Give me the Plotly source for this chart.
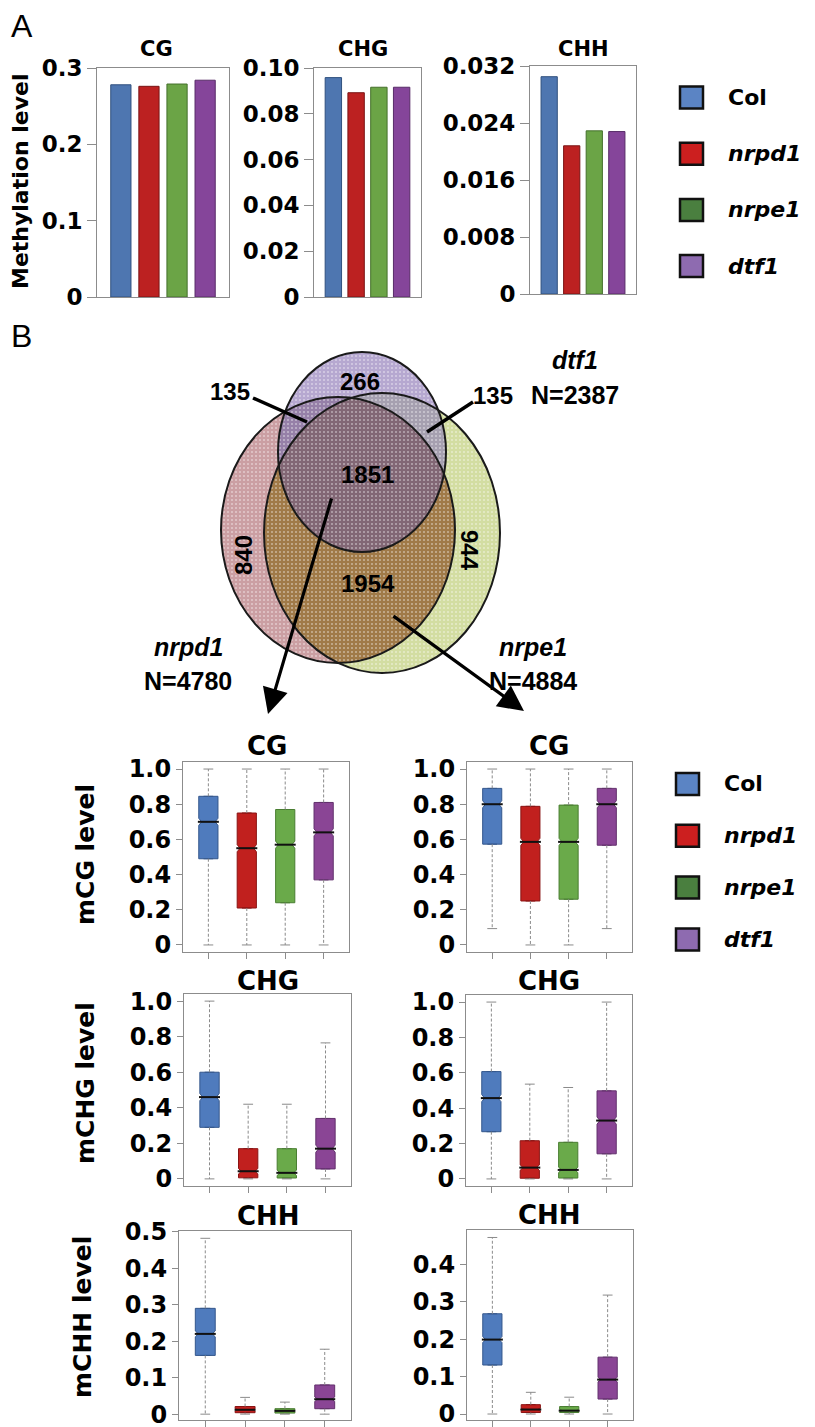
import numpy as np
import plotly.graph_objects as go

W, H = 815, 1427
# the page places the figure 8px in from the top-left corner; compensate
OX, OY = 8, 8

# ---------------- data ----------------
genotypes = ["Col", "nrpd1", "nrpe1", "dtf1"]
is_italic = [False, True, True, True]

# Panel A: genome-wide methylation level
bar_contexts = ["CG", "CHG", "CHH"]
bar_CG = [0.278, 0.276, 0.279, 0.284]
bar_CHG = [0.0958, 0.0892, 0.0916, 0.0916]
bar_CHH = [0.0305, 0.0208, 0.0229, 0.0228]
bar_ticks_CG = [0, 0.1, 0.2, 0.3]
bar_labels_CG = ["0", "0.1", "0.2", "0.3"]
bar_ticks_CHG = [0, 0.02, 0.04, 0.06, 0.08, 0.10]
bar_labels_CHG = ["0", "0.02", "0.04", "0.06", "0.08", "0.10"]
bar_ticks_CHH = [0, 0.008, 0.016, 0.024, 0.032]
bar_labels_CHH = ["0", "0.008", "0.016", "0.024", "0.032"]

# Panel B: Venn diagram
venn_names = ["dtf1", "nrpd1", "nrpe1"]
venn_N = [2387, 4780, 4884]
n_dtf1_only = 266
n_dtf1_nrpd1 = 135
n_dtf1_nrpe1 = 135
n_all = 1851
n_nrpd1_only = 840
n_nrpe1_only = 944
n_nrpd1_nrpe1 = 1954

# Box plots, left = 1851 shared DMRs, right = 1954 DMRs
L_CG_low = [0.0, 0.0, 0.0, 0.0]
L_CG_q1 = [0.49, 0.21, 0.24, 0.37]
L_CG_med = [0.70, 0.55, 0.57, 0.64]
L_CG_q3 = [0.845, 0.75, 0.77, 0.81]
L_CG_up = [1.0, 1.0, 1.0, 1.0]
L_CG_notch = [0.02, 0.02, 0.02, 0.02]

L_CHG_low = [0.0, 0.0, 0.0, 0.0]
L_CHG_q1 = [0.29, 0.006, 0.005, 0.056]
L_CHG_med = [0.46, 0.043, 0.034, 0.17]
L_CHG_q3 = [0.60, 0.17, 0.17, 0.34]
L_CHG_up = [1.0, 0.42, 0.42, 0.765]
L_CHG_notch = [0.02, 0.015, 0.015, 0.02]

L_CHH_low = [0.0, 0.0, 0.0, 0.0]
L_CHH_q1 = [0.161, 0.004, 0.003, 0.015]
L_CHH_med = [0.22, 0.012, 0.009, 0.041]
L_CHH_q3 = [0.29, 0.021, 0.015, 0.08]
L_CHH_up = [0.482, 0.046, 0.033, 0.178]
L_CHH_notch = [0.008, 0.003, 0.003, 0.006]

R_CG_low = [0.093, 0.0, 0.0, 0.093]
R_CG_q1 = [0.573, 0.25, 0.26, 0.567]
R_CG_med = [0.80, 0.586, 0.586, 0.80]
R_CG_q3 = [0.89, 0.788, 0.795, 0.89]
R_CG_up = [1.0, 1.0, 1.0, 1.0]
R_CG_notch = [0.02, 0.02, 0.02, 0.02]

R_CHG_low = [0.0, 0.0, 0.0, 0.0]
R_CHG_q1 = [0.267, 0.004, 0.005, 0.142]
R_CHG_med = [0.457, 0.064, 0.051, 0.33]
R_CHG_q3 = [0.607, 0.216, 0.207, 0.498]
R_CHG_up = [1.0, 0.536, 0.517, 1.0]
R_CHG_notch = [0.02, 0.015, 0.015, 0.02]

R_CHH_low = [0.0, 0.0, 0.0, 0.0]
R_CHH_q1 = [0.131, 0.004, 0.004, 0.04]
R_CHH_med = [0.199, 0.012, 0.009, 0.092]
R_CHH_q3 = [0.268, 0.025, 0.02, 0.152]
R_CHH_up = [0.472, 0.058, 0.045, 0.318]
R_CHH_notch = [0.008, 0.003, 0.003, 0.006]

box_ticks_1 = [0, 0.2, 0.4, 0.6, 0.8, 1.0]
box_labels_1 = ["0", "0.2", "0.4", "0.6", "0.8", "1.0"]
box_ticks_CHH_L = [0, 0.1, 0.2, 0.3, 0.4, 0.5]
box_labels_CHH_L = ["0", "0.1", "0.2", "0.3", "0.4", "0.5"]
box_ticks_CHH_R = [0, 0.1, 0.2, 0.3, 0.4]
box_labels_CHH_R = ["0", "0.1", "0.2", "0.3", "0.4"]

# ---------------- styles ----------------
bar_fill = ["#4E76B0", "#BC2121", "#6BA446", "#85459A"]
bar_edge = ["#30507E", "#7A1414", "#45702C", "#582C68"]
box_fill = ["#4F7BBD", "#C1201E", "#6AAA4A", "#8A4595"]
box_edge = ["#34578C", "#8A1414", "#4A7E32", "#62306C"]
leg_fill = ["#5B84C4", "#CC1F1F", "#4A7F3F", "#8E6BB0"]
FRAME = "#8C8C8C"
TXT = "DejaVu Sans"
VENN_FONT = "Liberation Sans, Arial, sans-serif"


def fx(x):
    return (x - OX) / W


def fy(y):
    return 1 - (y - OY) / H


fig = go.Figure()
layout = dict(width=W, height=H, autosize=False, margin=dict(l=0, r=0, t=0, b=0, pad=0),
              paper_bgcolor="white", plot_bgcolor="white", showlegend=False)
annotations = []
shapes = []


def ax_names(n):
    s = "" if n == 1 else str(n)
    return "xaxis" + s, "yaxis" + s, "x" + s, "y" + s


def make_panel(n, x0, x1, ytop, ybot, xr, yr, tv, tt, ticklen, fsize, xticks):
    xa, ya, xr_, yr_ = ax_names(n)
    layout[xa] = dict(domain=[fx(x0), fx(x1)], range=xr, anchor=yr_, automargin=False,
                      showgrid=False, zeroline=False, showline=True, mirror=True,
                      linecolor=FRAME, linewidth=1,
                      ticks="outside" if xticks else "", tickvals=[0, 1, 2, 3],
                      ticklen=6, tickcolor=FRAME, showticklabels=False, fixedrange=True)
    layout[ya] = dict(domain=[fy(ybot), fy(ytop)], range=yr, anchor=xr_, automargin=False,
                      showgrid=False, zeroline=False, showline=True, mirror=True,
                      linecolor=FRAME, linewidth=1, ticks="outside",
                      tickvals=tv, ticktext=tt, ticklen=ticklen, tickcolor=FRAME,
                      tickfont=dict(family=TXT, size=fsize, color="black", weight="bold"),
                      fixedrange=True)
    return xr_, yr_


def text(x, y, s, size, family=TXT, angle=0, xanchor="center", ref=None):
    d = dict(x=x, y=y, text=s, showarrow=False, textangle=angle,
             font=dict(family=family, size=size, color="black"),
             xanchor=xanchor, yanchor="middle")
    if ref is None:
        d.update(xref="paper", yref="paper", x=fx(x), y=fy(y))
    else:
        d.update(xref=ref[0], yref=ref[1])
    annotations.append(d)


# ---------------- Panel A ----------------
text(9, 26, "A", 32, family="Liberation Sans, Arial", xanchor="left")
text(21, 182, "<b>Methylation level</b>", 22, angle=-90)

bar_panels = [
    (1, 97, 229, 68, 297, [0, 0.3], bar_CG, bar_ticks_CG, bar_labels_CG, 156),
    (2, 314, 421, 68, 297, [0, 0.10], bar_CHG, bar_ticks_CHG, bar_labels_CHG, 363),
    (3, 530, 636, 66, 294, [0, 0.032], bar_CHH, bar_ticks_CHH, bar_labels_CHH, 583),
]
for (n, x0, x1, yt, yb, yrng, vals, tv, tt, tx), ctx in zip(bar_panels, bar_contexts):
    xr_, yr_ = make_panel(n, x0, x1, yt, yb, [-0.85, 3.85], yrng, tv, tt, 9, 23, False)
    fig.add_trace(go.Bar(x=list(range(len(genotypes))), y=vals, width=0.72,
                         marker=dict(color=bar_fill, line=dict(color=bar_edge, width=1)),
                         xaxis=xr_, yaxis=yr_, hoverinfo="skip"))
    text(tx, 49, "<b>%s</b>" % ctx, 21)


def legend(x_sq, x_txt, y_first, step):
    for i, (g, it) in enumerate(zip(genotypes, is_italic)):
        cy = y_first + i * step
        shapes.append(dict(type="rect", xref="paper", yref="paper",
                           x0=fx(x_sq), x1=fx(x_sq + 23), y0=fy(cy + 11), y1=fy(cy - 11),
                           fillcolor=leg_fill[i], line=dict(color="#111111", width=2.5)))
        s = "<b><i>%s</i></b>" % g if it else "<b>%s</b>" % g
        text(x_txt, cy, s, 22, xanchor="left")


legend(680, 726, 97.5, 56.2)

# ---------------- Panel B: Venn ----------------
text(9, 336, "B", 32, family="Liberation Sans, Arial", xanchor="left")

VX = (150, 650)
VY = (330, 720)
layout["xaxis10"] = dict(domain=[fx(VX[0]), fx(VX[1])], range=list(VX), visible=False,
                         anchor="y10", fixedrange=True, automargin=False)
layout["yaxis10"] = dict(domain=[fy(VY[1]), fy(VY[0])], range=[VY[1], VY[0]], visible=False,
                         anchor="x10", fixedrange=True, automargin=False)
VREF = ("x10", "y10")

ELL = {
    "nrpd1": (338, 530, 117, 133),
    "nrpe1": (382, 533, 118, 140),
    "dtf1": (362, 452, 84, 100),
}


def boundary(e, n=1200):
    cx, cy, rx, ry = e
    t = np.linspace(0, 2 * np.pi, n, endpoint=False)
    return cx + rx * np.cos(t), cy + ry * np.sin(t)


def inside(e, x, y):
    cx, cy, rx, ry = e
    return ((x - cx) / rx) ** 2 + ((y - cy) / ry) ** 2 <= 1 + 1e-9


def region(names):
    xs, ys = [], []
    for nm in names:
        x, y = boundary(ELL[nm])
        m = np.ones_like(x, dtype=bool)
        for o in names:
            if o != nm:
                m &= inside(ELL[o], x, y)
        xs.append(x[m])
        ys.append(y[m])
    x = np.concatenate(xs)
    y = np.concatenate(ys)
    order = np.argsort(np.arctan2(y - y.mean(), x - x.mean()))
    x, y = x[order], y[order]
    return np.append(x, x[0]), np.append(y, y[0])


venn_regions = [
    (("nrpe1",), "#D3DDA2"),
    (("nrpd1",), "#CB9FA3"),
    (("nrpd1", "nrpe1"), "#A07A48"),
    (("dtf1",), "#B6A8D0"),
    (("dtf1", "nrpd1"), "#9680A8"),
    (("dtf1", "nrpe1"), "#A6A0B0"),
    (("dtf1", "nrpd1", "nrpe1"), "#826775"),
]
for names, col in venn_regions:
    x, y = region(names)
    fig.add_trace(go.Scatter(x=x, y=y, mode="lines", fill="toself", fillcolor=col,
                             line=dict(width=0, color=col),
                             fillpattern=dict(shape=".", bgcolor=col, fgcolor="white",
                                              fgopacity=0.45, size=4, solidity=0.2),
                             xaxis="x10", yaxis="y10", hoverinfo="skip"))

for nm, (cx, cy, rx, ry) in ELL.items():
    shapes.append(dict(type="circle", xref="x10", yref="y10",
                       x0=cx - rx, x1=cx + rx, y0=cy - ry, y1=cy + ry,
                       line=dict(color="#1a1a1a", width=2), layer="above"))

# pointer lines for 135s
shapes.append(dict(type="line", xref="x10", yref="y10", x0=253, y0=398, x1=307, y1=422,
                   line=dict(color="black", width=3.5)))
shapes.append(dict(type="line", xref="x10", yref="y10", x0=473, y0=402, x1=427, y1=432,
                   line=dict(color="black", width=3.5)))

vb = lambda n: "<b>%d</b>" % n
text(360, 381, vb(n_dtf1_only), 24, VENN_FONT, ref=VREF)
text(230, 391, vb(n_dtf1_nrpd1), 24, VENN_FONT, ref=VREF)
text(493, 395, vb(n_dtf1_nrpe1), 24, VENN_FONT, ref=VREF)
text(367, 474, vb(n_all), 24, VENN_FONT, ref=VREF)
text(243, 555, vb(n_nrpd1_only), 24, VENN_FONT, angle=-90, ref=VREF)
text(470, 550, vb(n_nrpe1_only), 24, VENN_FONT, angle=90, ref=VREF)
text(368, 583, vb(n_nrpd1_nrpe1), 24, VENN_FONT, ref=VREF)

venn_label_pos = {"dtf1": (575, 360, 395), "nrpd1": (188, 647, 681), "nrpe1": (533, 647, 681)}
for nm, N in zip(venn_names, venn_N):
    x, y1, y2 = venn_label_pos[nm]
    text(x, y1, "<b><i>%s</i></b>" % nm, 25, VENN_FONT, ref=VREF)
    text(x, y2, "<b>N=%d</b>" % N, 25, VENN_FONT, ref=VREF)

for (x0, y0, x1, y1) in [(332, 497, 268, 714), (392, 615, 524, 711)]:
    annotations.append(dict(x=x1, y=y1, ax=x0, ay=y0, xref="x10", yref="y10",
                            axref="x10", ayref="y10", text="", showarrow=True,
                            arrowhead=2, arrowsize=1.6, arrowwidth=3.2,
                            arrowcolor="black", standoff=0))

# ---------------- Box plots ----------------
box_panels = [
    (4, 183, 349, 762, 952, [-0.04, 1.04], box_ticks_1, box_labels_1,
     (L_CG_low, L_CG_q1, L_CG_med, L_CG_q3, L_CG_up, L_CG_notch), "CG", 267, 746),
    (5, 467, 632, 762, 952, [-0.04, 1.04], box_ticks_1, box_labels_1,
     (R_CG_low, R_CG_q1, R_CG_med, R_CG_q3, R_CG_up, R_CG_notch), "CG", 549, 746),
    (6, 184, 351, 994, 1186, [-0.04, 1.04], box_ticks_1, box_labels_1,
     (L_CHG_low, L_CHG_q1, L_CHG_med, L_CHG_q3, L_CHG_up, L_CHG_notch), "CHG", 268, 981),
    (7, 466, 632, 995, 1186, [-0.04, 1.04], box_ticks_1, box_labels_1,
     (R_CHG_low, R_CHG_q1, R_CHG_med, R_CHG_q3, R_CHG_up, R_CHG_notch), "CHG", 549, 981),
    (8, 179, 351, 1231, 1420, [-0.016, 0.502], box_ticks_CHH_L, box_labels_CHH_L,
     (L_CHH_low, L_CHH_q1, L_CHH_med, L_CHH_q3, L_CHH_up, L_CHH_notch), "CHH", 268, 1216),
    (9, 467, 633, 1230, 1420, [-0.016, 0.492], box_ticks_CHH_R, box_labels_CHH_R,
     (R_CHH_low, R_CHH_q1, R_CHH_med, R_CHH_q3, R_CHH_up, R_CHH_notch), "CHH", 549, 1215),
]

for (n, x0, x1, yt, yb, yrng, tv, tt, stats, title, tx, ty) in box_panels:
    xr_, yr_ = make_panel(n, x0, x1, yt, yb, [-0.66, 3.66], yrng, tv, tt, 6, 24, True)
    low, q1, med, q3, up, notch = stats
    for i in range(len(genotypes)):
        fig.add_trace(go.Scatter(x=[i, i, None, i, i], y=[q3[i], up[i], None, q1[i], low[i]],
                                 mode="lines", line=dict(color="#8a8a8a", width=1, dash="3px,2px"),
                                 xaxis=xr_, yaxis=yr_, hoverinfo="skip"))
        fig.add_trace(go.Scatter(x=[i, i], y=[up[i], low[i]], mode="markers",
                                 marker=dict(symbol="line-ew", size=7,
                                             line=dict(color="#8a8a8a", width=1)),
                                 xaxis=xr_, yaxis=yr_, hoverinfo="skip"))
        fig.add_trace(go.Box(x=[i], q1=[q1[i]], median=[med[i]], q3=[q3[i]],
                             lowerfence=[q1[i]], upperfence=[q3[i]],
                             notched=True, notchspan=[notch[i]], notchwidth=0.15,
                             width=0.5, fillcolor=box_fill[i],
                             line=dict(color=box_edge[i], width=1),
                             boxpoints=False, xaxis=xr_, yaxis=yr_, hoverinfo="skip"))
        fig.add_trace(go.Scatter(x=[i], y=[med[i]], mode="markers",
                                 marker=dict(symbol="line-ew", size=15,
                                             line=dict(color="#111111", width=2)),
                                 xaxis=xr_, yaxis=yr_, hoverinfo="skip"))
    text(tx, ty, "<b>%s</b>" % title, 26)

text(85, 855, "<b>mCG level</b>", 25, angle=-90)
text(85, 1083, "<b>mCHG level</b>", 25, angle=-90)
text(82, 1317, "<b>mCHH level</b>", 25, angle=-90)

legend(676, 722, 784, 51.8)

layout["annotations"] = annotations
layout["shapes"] = shapes
fig.update_layout(**layout)
fig.write_html("out.html")
